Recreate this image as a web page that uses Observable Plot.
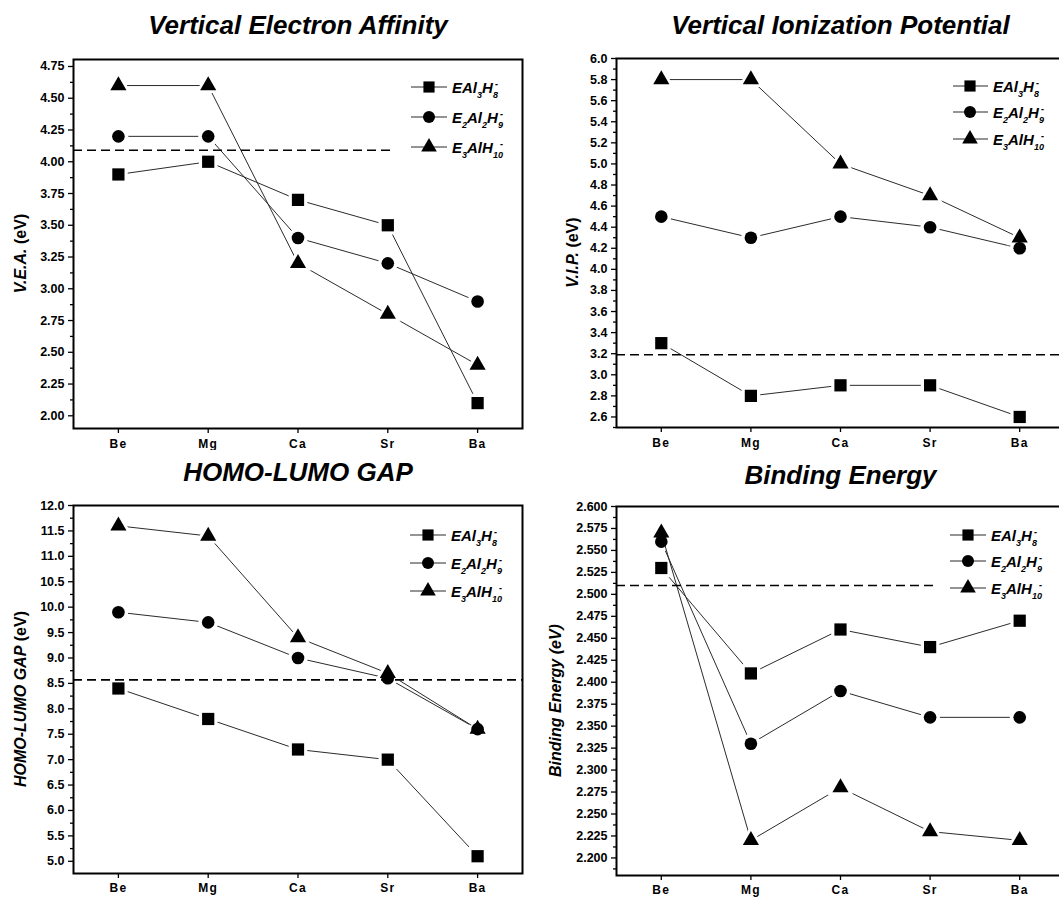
<!DOCTYPE html>
<html><head><meta charset="utf-8">
<script src="https://cdn.jsdelivr.net/npm/d3@7"></script>
<script src="https://cdn.jsdelivr.net/npm/@observablehq/plot@0.6"></script>
<style>
html,body{margin:0;padding:0;background:#fff;overflow:hidden;}
#page{position:relative;width:1059px;height:897px;overflow:hidden;background:#fff;}
.panel{position:absolute;}
.panel svg{max-width:none !important;}
#overlay{position:absolute;left:0;top:0;pointer-events:none;}
g[aria-label="x-axis tick label"] text{letter-spacing:1.3px;}
</style></head>
<body><div id="page"></div>
<script>
const FONT = "'Liberation Sans', Arial, Helvetica, sans-serif";
const elements = ["Be", "Mg", "Ca", "Sr", "Ba"];
const symbols = ["square", "circle", "triangle"];
const markerR = [6.9, 6.3, 6.0];
const legendR = [6.3, 6.0, 5.8];

// Vertical Electron Affinity
const veaEAl3H8  = [3.9, 4.0, 3.7, 3.5, 2.1];
const veaE2Al2H9 = [4.2, 4.2, 3.4, 3.2, 2.9];
const veaE3AlH10 = [4.6, 4.6, 3.2, 2.8, 2.4];
// Vertical Ionization Potential
const vipEAl3H8  = [3.3, 2.8, 2.9, 2.9, 2.6];
const vipE2Al2H9 = [4.5, 4.3, 4.5, 4.4, 4.2];
const vipE3AlH10 = [5.8, 5.8, 5.0, 4.7, 4.3];
// HOMO-LUMO gap
const gapEAl3H8  = [8.4, 7.8, 7.2, 7.0, 5.1];
const gapE2Al2H9 = [9.9, 9.7, 9.0, 8.6, 7.6];
const gapE3AlH10 = [11.6, 11.4, 9.4, 8.7, 7.6];
// Binding energy
const beEAl3H8  = [2.53, 2.41, 2.46, 2.44, 2.47];
const beE2Al2H9 = [2.56, 2.33, 2.39, 2.36, 2.36];
const beE3AlH10 = [2.57, 2.22, 2.28, 2.23, 2.22];

// dashed reference levels
const refLevels = [4.09, 3.19, 8.57, 2.51];

// tick values
const ticksVEA = [2.00, 2.25, 2.50, 2.75, 3.00, 3.25, 3.50, 3.75, 4.00, 4.25, 4.50, 4.75];
const ticksVIP = [2.6, 2.8, 3.0, 3.2, 3.4, 3.6, 3.8, 4.0, 4.2, 4.4, 4.6, 4.8, 5.0, 5.2, 5.4, 5.6, 5.8, 6.0];
const ticksGAP = [5.0, 5.5, 6.0, 6.5, 7.0, 7.5, 8.0, 8.5, 9.0, 9.5, 10.0, 10.5, 11.0, 11.5, 12.0];
const ticksBE  = [2.200, 2.225, 2.250, 2.275, 2.300, 2.325, 2.350, 2.375, 2.400, 2.425, 2.450, 2.475, 2.500, 2.525, 2.550, 2.575, 2.600];

function minorTicks(major, domain) {
  const step = major[1] - major[0];
  const out = [];
  for (let i = -1; i < major.length; i++) {
    const v = (i < 0 ? major[0] - step : major[i]) + step / 2;
    if (v >= domain[0] - 1e-9 && v <= domain[1] + 1e-9) out.push(v);
  }
  return out;
}

const legendParts = [
  [["EAl", 0], ["3", 1], ["H", 0], ["8", 1], ["-", 2]],
  [["E", 0], ["2", 1], ["Al", 0], ["2", 1], ["H", 0], ["9", 1], ["-", 2]],
  [["E", 0], ["3", 1], ["AlH", 0], ["10", 1], ["-", 2]]
];

const panels = [
  {title: "Vertical Electron Affinity", ylabel: [["V.E.A.", true], [" (eV)", false]],
   series: [veaEAl3H8, veaE2Al2H9, veaE3AlH10], ref: refLevels[0], refX2: 4.05,
   left: 0, top: 0, width: 530, height: 450, mL: 73, mR: 8, mT: 59, mB: 22,
   domain: [1.9, 4.805], major: ticksVEA, fmt: ".2f", titleDy: -34, xPad: 6, ylabX: 20,
   legend: {x1: 411, x2: 447, mx: 429, tx: 452, rows: [87, 117, 147]}},
  {title: "Vertical Ionization Potential", ylabel: [["V.I.P.", true], [" (eV)", false]],
   series: [vipEAl3H8, vipE2Al2H9, vipE3AlH10], ref: refLevels[1], refX2: 5.5,
   left: 530, top: 0, width: 540, height: 450, mL: 86, mR: 6, mT: 58, mB: 23,
   domain: [2.5, 6.0], major: ticksVIP, fmt: ".1f", titleDy: -33, xPad: 6, ylabX: 572,
   legend: {x1: 953, x2: 988, mx: 970, tx: 993, rows: [86, 112, 139]}},
  {title: "HOMO-LUMO GAP", ylabel: [["HOMO-LUMO GAP", true], [" (eV)", false]],
   series: [gapEAl3H8, gapE2Al2H9, gapE3AlH10], ref: refLevels[2], refX2: 5.5,
   left: 0, top: 450, width: 530, height: 447, mL: 73, mR: 8, mT: 55, mB: 24,
   domain: [4.76, 12.0], major: ticksGAP, fmt: ".1f", titleDy: -33, xPad: 5, ylabX: 20,
   legend: {x1: 410, x2: 446, mx: 428, tx: 451, rows: [535, 563, 591]}},
  {title: "Binding Energy", ylabel: [["Binding Energy", true], [" (eV)", true]],
   series: [beEAl3H8, beE2Al2H9, beE3AlH10], ref: refLevels[3], refX2: 4.08,
   left: 530, top: 450, width: 540, height: 447, mL: 86, mR: 6, mT: 56, mB: 22,
   domain: [2.18, 2.6], major: ticksBE, fmt: ".3f", titleDy: -31, xPad: 5, ylabX: 555,
   legend: {x1: 950, x2: 986, mx: 968, tx: 991, rows: [535, 561, 588]}}
];

const page = document.getElementById("page");

panels.forEach(p => {
  const marks = [];
  p.series.forEach((vals, s) => {
    const d = vals.map((v, i) => ({x: i + 1, y: v}));
    marks.push(Plot.line(d, {x: "x", y: "y", stroke: "#2b2b2b", strokeWidth: 1}));
    marks.push(Plot.dot(d, {x: "x", y: "y", symbol: symbols[s], r: markerR[s] + 3.6, fill: "white", stroke: "none"}));
  });
  marks.push(Plot.ruleY([{y: p.ref, x1: 0.5, x2: p.refX2}], {y: "y", x1: "x1", x2: "x2", stroke: "black", strokeWidth: 1.6, strokeDasharray: "9,5"}));
  p.series.forEach((vals, s) => {
    const d = vals.map((v, i) => ({x: i + 1, y: v}));
    marks.push(Plot.dot(d, {x: "x", y: "y", symbol: symbols[s], r: markerR[s], fill: "black", stroke: "none"}));
  });
  marks.push(Plot.frame({stroke: "black", strokeWidth: 2}));
  marks.push(Plot.axisY(p.major, {anchor: "left", tickSize: 5, tickPadding: 4, tickFormat: d3.format(p.fmt), fontSize: 12.5, fontWeight: "bold", strokeWidth: 1.3, label: null}));
  marks.push(Plot.axisY(minorTicks(p.major, p.domain), {anchor: "left", tickSize: 3, fill: "none", strokeWidth: 1.3, label: null}));
  marks.push(Plot.axisX([1, 2, 3, 4, 5], {anchor: "bottom", tickSize: 5, tickPadding: p.xPad, tickFormat: d => elements[d - 1], fontSize: 12, fontWeight: "bold", strokeWidth: 1.3, label: null}));
  marks.push(Plot.text([p.title], {text: d => d, frameAnchor: "top", dy: p.titleDy, lineAnchor: "middle", textAnchor: "middle", fontSize: 26, fontWeight: "bold", fontStyle: "italic"}));

  const chart = Plot.plot({
    width: p.width, height: p.height,
    marginLeft: p.mL, marginRight: p.mR, marginTop: p.mT, marginBottom: p.mB,
    x: {domain: [0.5, 5.5], axis: null, label: null},
    y: {domain: p.domain, axis: null, label: null},
    style: {fontFamily: FONT, background: "transparent", color: "black"},
    marks
  });
  const div = document.createElement("div");
  div.className = "panel";
  div.style.left = p.left + "px";
  div.style.top = p.top + "px";
  div.appendChild(chart);
  page.appendChild(div);
});

// overlay: y-axis labels and legends
const ov = d3.select(page).append("svg").attr("id", "overlay").attr("width", 1059).attr("height", 897)
  .attr("font-family", FONT);

panels.forEach(p => {
  const cy = p.top + (p.mT + (p.height - p.mB)) / 2 + 10;
  const t = ov.append("text")
    .attr("transform", `translate(${p.ylabX},${cy}) rotate(-90)`)
    .attr("text-anchor", "middle").attr("dy", "0.35em")
    .attr("font-size", 16).attr("font-weight", "bold");
  p.ylabel.forEach(([str, it]) => t.append("tspan").attr("font-style", it ? "italic" : "normal").text(str));

  const L = p.legend;
  L.rows.forEach((ry, s) => {
    ov.append("line").attr("x1", L.x1).attr("x2", L.x2).attr("y1", ry).attr("y2", ry)
      .attr("stroke", "#2b2b2b").attr("stroke-width", 1.1);
    const sym = [d3.symbolSquare, d3.symbolCircle, d3.symbolTriangle][s];
    ov.append("path").attr("transform", `translate(${L.mx},${ry})`)
      .attr("d", d3.symbol(sym, Math.PI * legendR[s] * legendR[s])()).attr("fill", "black");
    const txt = ov.append("text").attr("x", L.tx).attr("y", ry + 5.5)
      .attr("font-size", 15).attr("font-weight", "bold").attr("font-style", "italic");
    let cur = 0;
    legendParts[s].forEach(([str, kind]) => {
      const target = kind === 0 ? 0 : (kind === 1 ? 5 : -6);
      const ts = txt.append("tspan").attr("dy", target - cur).text(str);
      if (kind) ts.attr("font-size", 9);
      if (kind === 2) ts.attr("dx", -3);
      cur = target;
    });
  });
});
</script>
</body></html>
